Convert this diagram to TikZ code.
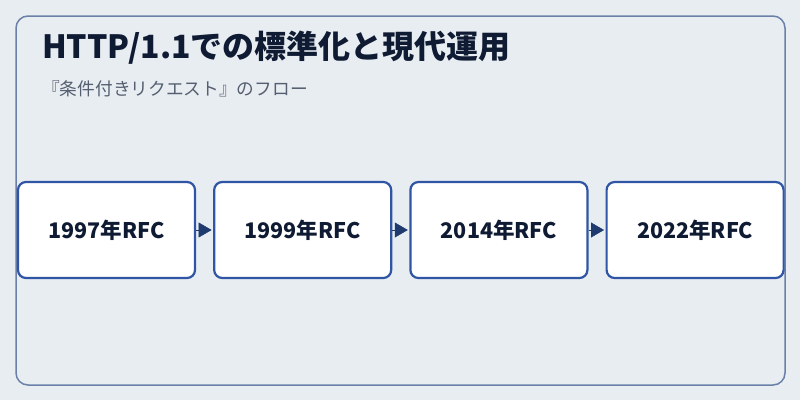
\documentclass[tikz,border=0pt]{standalone}
\usepackage{fontspec}
\setmainfont{Noto Sans CJK JP}
\usetikzlibrary{positioning,arrows.meta}
\definecolor{pagebg}{HTML}{E8EDF2}
\definecolor{framecol}{HTML}{6A80A8}
\definecolor{boxcol}{HTML}{2F55A4}
\definecolor{inkcol}{HTML}{0F1B33}
\definecolor{subcol}{HTML}{555F6F}
\definecolor{tipcol}{HTML}{1E3A6E}
\tikzset{
  year/.style  = {shape=rectangle, rounded corners=8pt, draw=boxcol,
                  line width=2.2pt, fill=white, minimum width=177pt,
                  minimum height=96pt, inner sep=0pt,
                  font=\bfseries\fontsize{21.5}{24}\selectfont, text=inkcol},
  link/.style  = {-{Triangle[length=13pt 0 0,width=15pt 0 0]}, draw=tipcol,
                  fill=tipcol, line width=0.4pt, shorten >=1.5pt}
}

\begin{document}
\begin{tikzpicture}[x=1pt,y=-1pt]
\useasboundingbox[fill=pagebg] (0,0) rectangle (800,400);
\draw[framecol, line width=1.5pt, rounded corners=12pt] (16,16) rectangle (785,385);
\node[anchor=base west, text=inkcol, font=\bfseries\fontsize{32}{36}\selectfont, inner sep=0pt]
  (title) at (42,58) {HTTP/1.1での標準化と現代運用};
\node[anchor=base west, text=subcol, font=\fontsize{17.7}{20}\selectfont, inner sep=0pt]
  (subtitle) at (42,95) {『条件付きリクエスト』のフロー};
% timeline
\node [year] (y1997) at (106.5,230) {1997年RFC};
\node [year, right=17pt of y1997] (y1999) {1999年RFC};
\node [year, right=17pt of y1999] (y2014) {2014年RFC};
\node [year, right=17pt of y2014] (y2022) {2022年RFC};
\draw [link] (y1997) -- (y1999);
\draw [link] (y1999) -- (y2014);
\draw [link] (y2014) -- (y2022);
\end{tikzpicture}
\end{document}
